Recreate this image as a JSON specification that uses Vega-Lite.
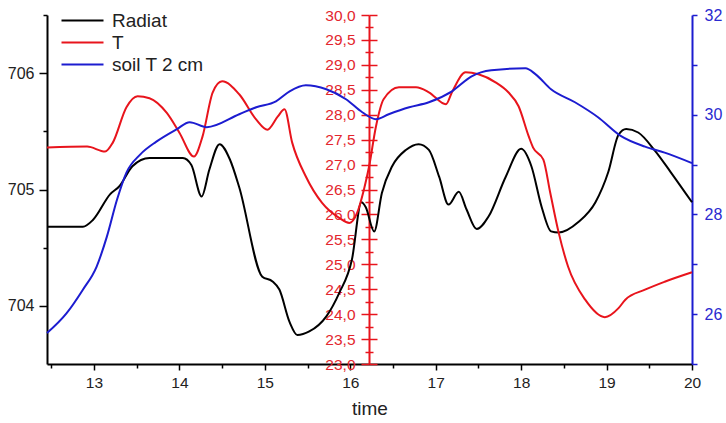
{
  "$schema": "https://vega.github.io/schema/vega-lite/v6.json",
  "width": 645,
  "height": 349,
  "autosize": {"type": "none"},
  "padding": {"left": 47, "top": 15, "right": 34, "bottom": 59},
  "background": "white",
  "config": {
    "view": {"stroke": null},
    "axis": {"labelFont": "Liberation Sans", "titleFont": "Liberation Sans", "grid": false, "labelOverlap": false, "labelBound": false, "labelFlush": false},
    "legend": {"labelFont": "Liberation Sans"}
  },
  "datasets": {
    "radiat": [
      {"t": 12.45, "v": 704.68}, {"t": 12.87, "v": 704.68}, {"t": 12.99, "v": 704.74}, {"t": 13.19, "v": 704.96},
      {"t": 13.30, "v": 705.03}, {"t": 13.45, "v": 705.20}, {"t": 13.65, "v": 705.27}, {"t": 14.04, "v": 705.27},
      {"t": 14.14, "v": 705.21}, {"t": 14.26, "v": 704.94}, {"t": 14.35, "v": 705.17}, {"t": 14.47, "v": 705.39},
      {"t": 14.59, "v": 705.26}, {"t": 14.70, "v": 705.02}, {"t": 14.97, "v": 704.25}, {"t": 15.09, "v": 704.21},
      {"t": 15.17, "v": 704.14}, {"t": 15.29, "v": 703.86}, {"t": 15.38, "v": 703.75}, {"t": 15.52, "v": 703.78},
      {"t": 15.72, "v": 703.91}, {"t": 15.87, "v": 704.11}, {"t": 16.02, "v": 704.40}, {"t": 16.13, "v": 704.89},
      {"t": 16.18, "v": 704.85}, {"t": 16.28, "v": 704.64}, {"t": 16.37, "v": 704.97}, {"t": 16.49, "v": 705.20},
      {"t": 16.65, "v": 705.34}, {"t": 16.80, "v": 705.39}, {"t": 16.92, "v": 705.34}, {"t": 17.04, "v": 705.11},
      {"t": 17.15, "v": 704.87}, {"t": 17.27, "v": 704.98}, {"t": 17.36, "v": 704.83}, {"t": 17.48, "v": 704.66},
      {"t": 17.62, "v": 704.77}, {"t": 17.82, "v": 705.11}, {"t": 18.00, "v": 705.35}, {"t": 18.12, "v": 705.20},
      {"t": 18.24, "v": 704.85}, {"t": 18.35, "v": 704.64}, {"t": 18.44, "v": 704.63}, {"t": 18.67, "v": 704.72},
      {"t": 18.87, "v": 704.89}, {"t": 19.02, "v": 705.15}, {"t": 19.14, "v": 705.47}, {"t": 19.23, "v": 705.52},
      {"t": 19.37, "v": 705.49}, {"t": 19.57, "v": 705.33}, {"t": 19.75, "v": 705.15}, {"t": 20.00, "v": 704.89}
    ],
    "temp": [
      {"t": 12.45, "v": 27.34}, {"t": 12.92, "v": 27.36}, {"t": 13.13, "v": 27.26}, {"t": 13.22, "v": 27.44},
      {"t": 13.38, "v": 28.15}, {"t": 13.51, "v": 28.37}, {"t": 13.65, "v": 28.33}, {"t": 13.85, "v": 28.04},
      {"t": 14.00, "v": 27.64}, {"t": 14.17, "v": 27.16}, {"t": 14.27, "v": 27.56}, {"t": 14.39, "v": 28.45},
      {"t": 14.50, "v": 28.67}, {"t": 14.70, "v": 28.41}, {"t": 14.90, "v": 27.90}, {"t": 15.03, "v": 27.70},
      {"t": 15.15, "v": 27.96}, {"t": 15.23, "v": 28.11}, {"t": 15.32, "v": 27.44}, {"t": 15.48, "v": 26.76},
      {"t": 15.67, "v": 26.23}, {"t": 15.87, "v": 25.93}, {"t": 15.99, "v": 25.83}, {"t": 16.08, "v": 26.03},
      {"t": 16.16, "v": 26.50}, {"t": 16.22, "v": 26.96}, {"t": 16.30, "v": 27.76}, {"t": 16.39, "v": 28.31},
      {"t": 16.57, "v": 28.55}, {"t": 16.77, "v": 28.55}, {"t": 16.92, "v": 28.45}, {"t": 17.12, "v": 28.21},
      {"t": 17.19, "v": 28.45}, {"t": 17.35, "v": 28.85}, {"t": 17.50, "v": 28.81}, {"t": 17.70, "v": 28.65},
      {"t": 17.85, "v": 28.45}, {"t": 17.97, "v": 28.17}, {"t": 18.09, "v": 27.56}, {"t": 18.14, "v": 27.34},
      {"t": 18.26, "v": 27.10}, {"t": 18.34, "v": 26.44}, {"t": 18.44, "v": 25.63}, {"t": 18.55, "v": 24.95},
      {"t": 18.75, "v": 24.29}, {"t": 18.98, "v": 23.94}, {"t": 19.14, "v": 24.12}, {"t": 19.22, "v": 24.29},
      {"t": 19.45, "v": 24.49}, {"t": 19.68, "v": 24.65}, {"t": 20.00, "v": 24.84}
    ],
    "soil": [
      {"t": 12.45, "v": 25.62}, {"t": 12.68, "v": 26.02}, {"t": 12.87, "v": 26.49}, {"t": 13.03, "v": 26.95},
      {"t": 13.15, "v": 27.55}, {"t": 13.27, "v": 28.30}, {"t": 13.38, "v": 28.84}, {"t": 13.54, "v": 29.20},
      {"t": 13.73, "v": 29.46}, {"t": 13.97, "v": 29.71}, {"t": 14.12, "v": 29.85}, {"t": 14.32, "v": 29.75},
      {"t": 14.70, "v": 30.01}, {"t": 14.90, "v": 30.15}, {"t": 15.13, "v": 30.27}, {"t": 15.29, "v": 30.47},
      {"t": 15.48, "v": 30.59}, {"t": 15.72, "v": 30.51}, {"t": 15.95, "v": 30.31}, {"t": 16.14, "v": 30.05},
      {"t": 16.30, "v": 29.91}, {"t": 16.45, "v": 30.01}, {"t": 16.69, "v": 30.15}, {"t": 16.92, "v": 30.25},
      {"t": 17.19, "v": 30.47}, {"t": 17.42, "v": 30.77}, {"t": 17.65, "v": 30.89}, {"t": 18.05, "v": 30.93},
      {"t": 18.17, "v": 30.81}, {"t": 18.35, "v": 30.51}, {"t": 18.63, "v": 30.25}, {"t": 18.90, "v": 29.95},
      {"t": 19.17, "v": 29.57}, {"t": 19.45, "v": 29.36}, {"t": 19.68, "v": 29.24}, {"t": 20.00, "v": 29.03}
    ]
  },
  "encoding": {
    "x": {
      "field": "t", "type": "quantitative",
      "scale": {"domain": [12.45, 20], "nice": false, "zero": false},
      "axis": {
        "title": "time", "titleFontSize": 19, "titleFontWeight": "normal", "titlePadding": 9, "titleColor": "#222222",
        "values": [12.5, 13, 13.5, 14, 14.5, 15, 15.5, 16, 16.5, 17, 17.5, 18, 18.5, 19, 19.5, 20],
        "labelExpr": "datum.value % 1 == 0 ? format(datum.value, 'd') : ''",
        "labelFontSize": 15.5, "labelColor": "#222222", "labelPadding": 5,
        "domainColor": "black", "domainWidth": 2, "tickColor": "black", "tickWidth": 1.5,
        "tickSize": {"condition": {"test": "datum.value % 1 == 0", "value": 6}, "value": 4}
      }
    }
  },
  "layer": [
    {
      "data": {"name": "radiat"},
      "mark": {"type": "line", "interpolate": "monotone", "strokeWidth": 2},
      "encoding": {
        "y": {
          "field": "v", "type": "quantitative",
          "scale": {"domain": [703.5, 706.5], "nice": false, "zero": false},
          "axis": {
            "orient": "left", "title": null,
            "values": [704, 704.5, 705, 705.5, 706, 706.5],
            "labelExpr": "datum.value % 1 == 0 ? format(datum.value, 'd') : ''",
            "labelFontSize": 16, "labelColor": "#222222", "labelPadding": 5,
            "domainColor": "black", "domainWidth": 2, "tickColor": "black", "tickWidth": 1.5,
            "tickSize": {"condition": {"test": "datum.value % 1 == 0", "value": 8}, "value": 4}
          }
        },
        "color": {
          "datum": "Radiat", "type": "nominal",
          "scale": {"domain": ["Radiat", "T", "soil T 2 cm"], "range": ["#000000", "#e8141c", "#1c1cd0"]},
          "legend": {
            "title": null, "orient": "none", "legendX": 24, "legendY": -6,
            "symbolType": "M-2,0H2", "symbolSize": 441, "symbolStrokeWidth": 2,
            "labelFontSize": 19, "labelColor": "#222222", "labelOffset": 18, "rowPadding": 0
          }
        }
      }
    },
    {
      "data": {"name": "temp"},
      "mark": {"type": "line", "interpolate": "monotone", "strokeWidth": 2},
      "encoding": {
        "y": {
          "field": "v", "type": "quantitative",
          "scale": {"domain": [23, 30], "nice": false, "zero": false},
          "axis": {
            "orient": "left", "offset": -322, "title": null,
            "values": [23, 23.25, 23.5, 23.75, 24, 24.25, 24.5, 24.75, 25, 25.25, 25.5, 25.75, 26, 26.25, 26.5, 26.75, 27, 27.25, 27.5, 27.75, 28, 28.25, 28.5, 28.75, 29, 29.25, 29.5, 29.75, 30],
            "labelExpr": "datum.value % 0.5 == 0 ? replace(format(datum.value, '.1f'), '.', ',') : ''",
            "labelFontSize": 15.5, "labelColor": "#e3262e", "labelPadding": 6,
            "domainColor": "#e8141c", "domainWidth": 2, "tickColor": "#e8141c", "tickWidth": 1.5,
            "tickSize": {"condition": {"test": "datum.value % 0.5 == 0", "value": 8}, "value": 4}
          }
        },
        "color": {"datum": "T", "type": "nominal"}
      }
    },
    {
      "data": {"name": "temp"},
      "mark": {"type": "line", "interpolate": "monotone", "strokeOpacity": 0},
      "encoding": {
        "y": {
          "field": "v", "type": "quantitative",
          "scale": {"domain": [23, 30], "nice": false, "zero": false},
          "axis": {
            "orient": "right", "offset": -323, "title": null, "labels": false, "domain": false,
            "values": [23, 23.25, 23.5, 23.75, 24, 24.25, 24.5, 24.75, 25, 25.25, 25.5, 25.75, 26, 26.25, 26.5, 26.75, 27, 27.25, 27.5, 27.75, 28, 28.25, 28.5, 28.75, 29, 29.25, 29.5, 29.75, 30],
            "tickColor": "#e8141c", "tickWidth": 1.5,
            "tickSize": {"condition": {"test": "datum.value % 0.5 == 0", "value": 8}, "value": 4}
          }
        }
      }
    },
    {
      "data": {"name": "soil"},
      "mark": {"type": "line", "interpolate": "monotone", "strokeWidth": 2},
      "encoding": {
        "y": {
          "field": "v", "type": "quantitative",
          "scale": {"domain": [25, 32], "nice": false, "zero": false},
          "axis": {
            "orient": "right", "title": null,
            "values": [25, 26, 27, 28, 29, 30, 31, 32],
            "labelExpr": "datum.value % 2 == 0 ? format(datum.value, 'd') : ''",
            "labelFontSize": 16, "labelColor": "#2a2ad0", "labelPadding": 7,
            "domainColor": "#1c1cd0", "domainWidth": 2, "tickColor": "#1c1cd0", "tickWidth": 1.5, "tickSize": 5
          }
        },
        "color": {"datum": "soil T 2 cm", "type": "nominal"}
      }
    }
  ],
  "resolve": {"scale": {"y": "independent"}, "axis": {"y": "independent"}}
}
